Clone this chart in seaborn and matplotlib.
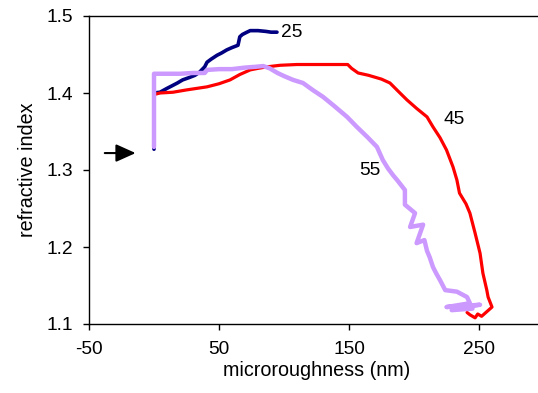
import matplotlib
matplotlib.use("Agg")
import matplotlib.pyplot as plt
import seaborn as sns
import pandas as pd

# ---- data ----
x25 = [0, 0, 0, 4.6, 10, 14.6, 18, 22, 27, 31.5, 35, 39, 40.8, 44, 48.5, 52, 56, 60, 64.6, 66, 68, 71.5, 74, 80, 86, 90, 94.6]
y25 = [1.327, 1.36, 1.400, 1.401, 1.406, 1.410, 1.413, 1.417, 1.420, 1.423, 1.427, 1.434, 1.440, 1.444, 1.449, 1.452, 1.456, 1.459, 1.462, 1.473, 1.476, 1.479, 1.481, 1.481, 1.480, 1.479, 1.479]

x45 = [0, 0, 0, 4.6, 14.6, 25, 40.8, 50, 58.5, 66, 74, 80, 87, 97, 110, 125, 140, 149, 152, 157, 165, 175, 181.5, 188, 194.6, 202, 210, 214.6, 220, 225, 230, 233, 235, 240, 243, 247, 250.8, 253, 256, 257, 260, 256, 252, 249, 247, 243, 240.8]
y45 = [1.330, 1.36, 1.398, 1.400, 1.401, 1.404, 1.408, 1.412, 1.417, 1.424, 1.430, 1.432, 1.434, 1.436, 1.437, 1.437, 1.437, 1.437, 1.432, 1.426, 1.423, 1.418, 1.413, 1.402, 1.391, 1.380, 1.369, 1.356, 1.342, 1.326, 1.304, 1.287, 1.270, 1.256, 1.244, 1.218, 1.192, 1.166, 1.144, 1.135, 1.122, 1.116, 1.110, 1.113, 1.108, 1.112, 1.115]

x55 = [0, 0, 0, 2, 10, 20, 30, 39, 41, 50, 60, 70, 78, 84, 89, 95, 100, 107, 114.6, 122, 130, 138, 148.5, 156, 164, 171.5, 176, 180, 184, 187, 193, 193, 200.8, 197, 207, 202, 208, 210, 212, 214.6, 217, 220, 224, 233, 240.8, 243, 225, 250.8, 233, 229, 245]
y55 = [1.330, 1.38, 1.425, 1.425, 1.425, 1.425, 1.426, 1.426, 1.430, 1.431, 1.431, 1.433, 1.434, 1.435, 1.432, 1.426, 1.422, 1.417, 1.413, 1.404, 1.395, 1.384, 1.369, 1.356, 1.343, 1.330, 1.313, 1.302, 1.293, 1.287, 1.274, 1.255, 1.244, 1.226, 1.229, 1.205, 1.209, 1.195, 1.187, 1.174, 1.166, 1.157, 1.144, 1.142, 1.135, 1.127, 1.122, 1.125, 1.121, 1.118, 1.120]

series_names = ["25", "45", "55"]
series_colors = ["#000080", "#FF0000", "#CC99FF"]
series_widths = [2.6, 2.3, 3.2]

x_ticks = [-50, 50, 150, 250]
y_ticks = [1.1, 1.2, 1.3, 1.4, 1.5]

frames = []
for name, xs, ys in zip(series_names, [x25, x45, x55], [y25, y45, y55]):
    frames.append(pd.DataFrame({"x": xs, "y": ys, "series": name}))
df = pd.concat(frames, ignore_index=True)

sns.set_theme(style="white")
plt.rcParams["font.family"] = ["Liberation Sans", "DejaVu Sans"]

fig = plt.figure(figsize=(5.38, 3.93), dpi=100)
ax = fig.add_axes([89 / 538, 1 - 324 / 393, 455 / 538, 308 / 393])

for name, col, lw in zip(series_names, series_colors, series_widths):
    sub = df[df["series"] == name]
    sns.lineplot(data=sub, x="x", y="y", sort=False, estimator=None, color=col,
                 linewidth=lw, ax=ax, legend=False,
                 solid_joinstyle="round", solid_capstyle="round")

ax.set_xlim(-50, 300)
ax.set_ylim(1.1, 1.5)
ax.set_xticks(x_ticks)
ax.set_xticklabels([str(t) for t in x_ticks])
ax.set_yticks(y_ticks)
ax.set_yticklabels([f"{t:.1f}" for t in y_ticks])
ax.tick_params(axis="both", direction="out", length=4.5, width=1, color="black",
               labelsize=13.8, labelcolor="black", bottom=True, left=True)
ax.tick_params(axis="x", pad=8)
ax.tick_params(axis="y", pad=7)
for side in ["left", "bottom", "top"]:
    ax.spines[side].set_visible(True)
    ax.spines[side].set_color("black")
    ax.spines[side].set_linewidth(1)
ax.spines["right"].set_visible(False)

ax.set_xlabel("microroughness (nm)", fontsize=14.2, color="black", labelpad=2)
ax.set_ylabel("refractive index", fontsize=14.2, color="black", labelpad=7)

# series labels
ax.text(98, 1.478, "25", fontsize=13.8, va="center", ha="left", color="black")
ax.text(223, 1.366, "45", fontsize=13.8, va="center", ha="left", color="black")
ax.text(158, 1.299, "55", fontsize=13.8, va="center", ha="left", color="black")

# arrow
ax.annotate("", xy=(-12, 1.322), xytext=(-40, 1.322),
            arrowprops=dict(arrowstyle="-|>,head_length=1.0,head_width=0.45",
                            color="black", lw=1.5))

fig.savefig("out.png", dpi=100)
